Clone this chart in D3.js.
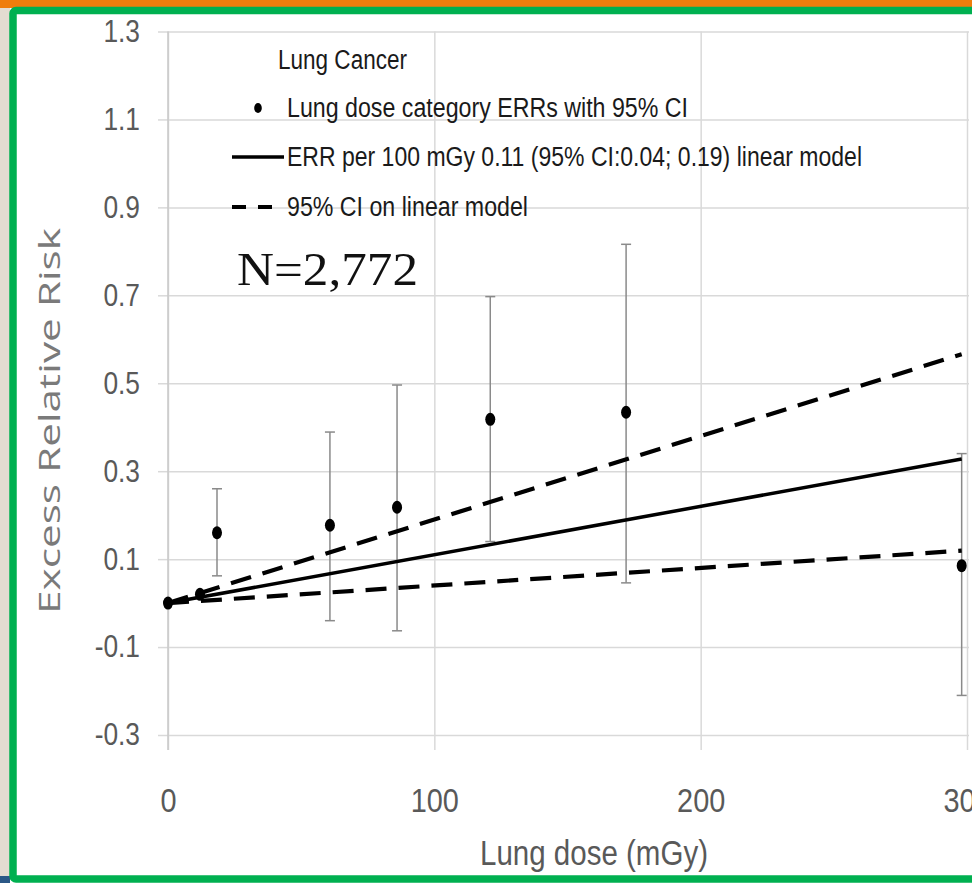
<!DOCTYPE html>
<html>
<head>
<meta charset="utf-8">
<script src="https://cdn.jsdelivr.net/npm/d3@7"></script>
<style>
  html, body { margin: 0; padding: 0; background: #ffffff; }
  svg { display: block; }
  .narrow { font-family: "Liberation Sans Narrow", "Liberation Sans", Arial, sans-serif; }
</style>
</head>
<body>
<svg id="chart" width="972" height="883"></svg>
<script>
// Lung dose categories (mGy) with their excess relative risks and 95% CIs
const doses  = [0, 12, 18.4, 60.8, 86, 121, 172, 298];
const err    = [0, 0.02, 0.16, 0.177, 0.218, 0.418, 0.434, 0.085];
const ciLow  = [0, 0.02, 0.062, -0.040, -0.063, 0.14, 0.046, -0.21];
const ciHigh = [0, 0.02, 0.26, 0.389, 0.496, 0.697, 0.816, 0.34];

// Linear model: ERR per 100 mGy with its 95% CI
const slopeNames = ["estimate", "lower", "upper"];
const slopes     = [0.11, 0.04, 0.19];
const modelDoseRange = [0, 298];

// Axis ticks and labels
const xTicks = [0, 100, 200, 300];
const xTickLabels = ["0", "100", "200", "300"];
const yTicks = [-0.3, -0.1, 0.1, 0.3, 0.5, 0.7, 0.9, 1.1, 1.3];
const yTickLabels = ["-0.3", "-0.1", "0.1", "0.3", "0.5", "0.7", "0.9", "1.1", "1.3"];

// Legend entries
const legendTitle = "Lung Cancer";
const legendLabels = [
  "Lung dose category ERRs with 95% CI",
  "ERR per 100 mGy 0.11 (95% CI:0.04; 0.19) linear model",
  "95% CI on linear model"
];
const sampleSize = "N=2,772";

const svg = d3.select("#chart");
const W = 972, H = 883;
const squeeze = 0.85; // horizontal condensing of the tick labels

// Slide frame around the chart
svg.append("rect").attr("x", 0).attr("y", 0).attr("width", W).attr("height", H).attr("fill", "#ffffff");
svg.append("rect").attr("x", 0).attr("y", 0).attr("width", 10).attr("height", H).attr("fill", "#e4dcd1");
svg.append("rect").attr("x", 0).attr("y", 876).attr("width", 10).attr("height", 7).attr("fill", "#2b5886");
svg.append("rect").attr("x", 0).attr("y", 0).attr("width", W).attr("height", 8).attr("fill", "#ef7d0c");
svg.append("rect")
  .attr("x", 13).attr("y", 10.5).attr("width", 1000).attr("height", 868.5)
  .attr("rx", 3)
  .attr("fill", "#ffffff").attr("stroke", "#00b050").attr("stroke-width", 7.5);

// Scales
const x = d3.scaleLinear().domain([0, 300]).range([168, 967]);
const y = d3.scaleLinear().domain([-0.3, 1.3]).range([735, 31.5]);

const gridColor = "#d9d9d9";
const textColor = "#595959";

// Horizontal gridlines with outward ticks
const yAxis = svg.append("g")
  .attr("class", "narrow")
  .attr("transform", `translate(${x(0)},0)`)
  .call(d3.axisLeft(y).tickValues(yTicks).tickSize(10).tickPadding(18)
    .tickFormat((d, i) => yTickLabels[i]));
yAxis.select(".domain").remove();
yAxis.selectAll(".tick line").attr("stroke", gridColor).attr("stroke-width", 1.5);
yAxis.selectAll(".tick text")
  .attr("fill", textColor).attr("font-size", 31)
  .attr("font-family", "Liberation Sans Narrow, Liberation Sans, sans-serif")
  .attr("x", -28 / squeeze)
  .attr("transform", `scale(${squeeze},1)`);

const yGrid = svg.append("g")
  .attr("transform", `translate(${x(0)},0)`)
  .call(d3.axisLeft(y).tickValues(yTicks).tickSize(-(x(300) - x(0) + 2)).tickFormat(""));
yGrid.select(".domain").remove();
yGrid.selectAll(".tick line").attr("stroke", gridColor).attr("stroke-width", 1.5);

// Vertical gridlines with ticks below the plot
const xAxis = svg.append("g")
  .attr("transform", `translate(0,${y(-0.3)})`)
  .call(d3.axisBottom(x).tickValues(xTicks).tickSize(15).tickPadding(38)
    .tickFormat((d, i) => xTickLabels[i]));
xAxis.select(".domain").remove();
xAxis.selectAll(".tick line").attr("stroke", gridColor).attr("stroke-width", 1.5);
xAxis.selectAll(".tick text")
  .attr("fill", textColor).attr("font-size", 34)
  .attr("font-family", "Liberation Sans Narrow, Liberation Sans, sans-serif")
  .attr("transform", `scale(${squeeze},1)`);

const xGrid = svg.append("g")
  .attr("transform", `translate(0,${y(-0.3)})`)
  .call(d3.axisBottom(x).tickValues(xTicks).tickSize(-(y(-0.3) - y(1.3))).tickFormat(""));
xGrid.select(".domain").remove();
xGrid.selectAll(".tick line").attr("stroke", gridColor).attr("stroke-width", 1.5);

// Vertical axis line
svg.append("line")
  .attr("x1", x(0)).attr("x2", x(0))
  .attr("y1", y(1.3)).attr("y2", y(-0.3) + 15)
  .attr("stroke", "#c8c8c8").attr("stroke-width", 1.5);

// Axis titles
svg.append("text")
  .attr("class", "narrow")
  .attr("x", 594).attr("y", 865)
  .attr("text-anchor", "middle")
  .attr("font-size", 35).attr("fill", textColor)
  .attr("textLength", 228).attr("lengthAdjust", "spacingAndGlyphs")
  .text("Lung dose (mGy)");

svg.append("text")
  .attr("transform", "translate(60,421) rotate(-90)")
  .attr("text-anchor", "middle")
  .attr("font-family", "Open Sans, Noto Sans, sans-serif")
  .attr("font-size", 30).attr("fill", "#7a7a7a")
  .attr("textLength", 386).attr("lengthAdjust", "spacingAndGlyphs")
  .text("Excess Relative Risk");

// Error bars
const points = doses.map((d, i) => ({ dose: d, err: err[i], lo: ciLow[i], hi: ciHigh[i] }));
const bars = svg.append("g").attr("stroke", "#8a8a8a").attr("stroke-width", 1.5);
points.filter(p => p.hi > p.lo).forEach(p => {
  bars.append("line").attr("x1", x(p.dose)).attr("x2", x(p.dose)).attr("y1", y(p.lo)).attr("y2", y(p.hi));
  bars.append("line").attr("x1", x(p.dose) - 5).attr("x2", x(p.dose) + 5).attr("y1", y(p.lo)).attr("y2", y(p.lo));
  bars.append("line").attr("x1", x(p.dose) - 5).attr("x2", x(p.dose) + 5).attr("y1", y(p.hi)).attr("y2", y(p.hi));
});

// Linear model and its confidence bounds
const line = d3.line().x(d => x(d[0])).y(d => y(d[1]));
slopes.forEach((b, i) => {
  const pts = modelDoseRange.map(d => [d, b * d / 100]);
  svg.append("path")
    .attr("d", line(pts))
    .attr("fill", "none")
    .attr("stroke", "#000000")
    .attr("stroke-width", slopeNames[i] === "estimate" ? 3.5 : 4.2)
    .attr("stroke-dasharray", slopeNames[i] === "estimate" ? null : "21,12");
});

// Category markers
svg.append("g").selectAll("ellipse")
  .data(points)
  .join("ellipse")
  .attr("cx", p => x(p.dose)).attr("cy", p => y(p.err))
  .attr("rx", 5).attr("ry", 6.5)
  .attr("fill", "#000000");

// Legend
const legend = svg.append("g").attr("class", "narrow").attr("fill", "#1a1a1a").attr("font-size", 27);
legend.append("text").attr("x", 278).attr("y", 69)
  .attr("textLength", 129).attr("lengthAdjust", "spacingAndGlyphs").text(legendTitle);
const legendWidths = [401, 575, 241];
const legendBase = [117, 166, 216];
legendLabels.forEach((t, i) => {
  legend.append("text").attr("x", 287).attr("y", legendBase[i])
    .attr("textLength", legendWidths[i]).attr("lengthAdjust", "spacingAndGlyphs").text(t);
});
legend.append("ellipse").attr("cx", 258).attr("cy", 108).attr("rx", 3.8).attr("ry", 5).attr("fill", "#000");
legend.append("line").attr("x1", 232).attr("x2", 284).attr("y1", 157).attr("y2", 157)
  .attr("stroke", "#000").attr("stroke-width", 3.5);
legend.append("line").attr("x1", 232).attr("x2", 276).attr("y1", 207).attr("y2", 207)
  .attr("stroke", "#000").attr("stroke-width", 4).attr("stroke-dasharray", "14,12");

// Sample size annotation
svg.append("text")
  .attr("x", 237).attr("y", 285)
  .attr("font-family", "Liberation Serif, DejaVu Serif, serif")
  .attr("font-size", 46).attr("fill", "#111111")
  .attr("textLength", 181).attr("lengthAdjust", "spacingAndGlyphs")
  .text(sampleSize);
</script>
</body>
</html>
